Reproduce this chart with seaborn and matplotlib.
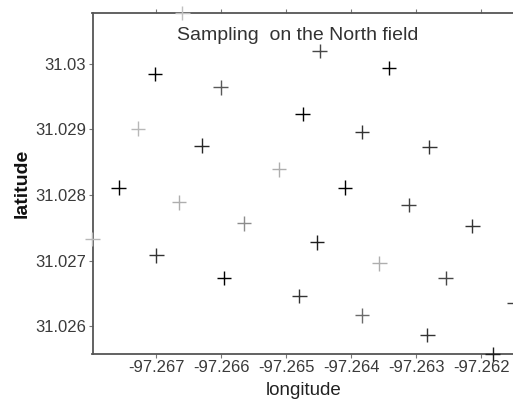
import matplotlib
matplotlib.use("Agg")
import matplotlib.pyplot as plt
import seaborn as sns
import pandas as pd

# sampling points
longitude = [-97.26702, -97.26660, -97.26601, -97.26449, -97.26342, -97.26728,
             -97.26630, -97.26475, -97.26384, -97.26280, -97.26511, -97.26758,
             -97.26665, -97.26410, -97.26312, -97.26565, -97.26214, -97.26798,
             -97.26700, -97.26453, -97.26357, -97.26596, -97.26255, -97.26480,
             -97.26150, -97.26384, -97.26283, -97.26183]
latitude = [31.02984, 31.03077, 31.02964, 31.03019, 31.02993, 31.02901,
            31.02875, 31.02923, 31.02896, 31.02873, 31.02839, 31.02811,
            31.02789, 31.02811, 31.02785, 31.02757, 31.02753, 31.02733,
            31.02708, 31.02728, 31.02696, 31.02674, 31.02674, 31.02646,
            31.02636, 31.02617, 31.02587, 31.02558]
# grey level of each cross (0 = black, 1 = white)
shade = [0.0, 0.75, 0.35, 0.28, 0.0, 0.72,
         0.15, 0.0, 0.2, 0.2, 0.68, 0.0,
         0.68, 0.0, 0.25, 0.55, 0.2, 0.72,
         0.2, 0.12, 0.68, 0.0, 0.28, 0.2,
         0.25, 0.42, 0.2, 0.12]

df = pd.DataFrame({"longitude": longitude, "latitude": latitude, "shade": shade})

sns.set_style("ticks")
plt.rcParams["font.family"] = ["Liberation Sans", "DejaVu Sans"]

fig = plt.figure(figsize=(5.13, 4.13), dpi=100)
ax = fig.add_axes([92.5 / 513, 59 / 413, 421.5 / 513, 341 / 413])

sns.scatterplot(data=df, x="longitude", y="latitude", hue="shade",
                palette="gray", hue_norm=(0, 1), marker="+", s=110,
                linewidth=1.0, legend=False, clip_on=False, ax=ax, zorder=3)

ax.set_xlim(min(longitude), max(longitude))
ax.set_ylim(min(latitude), max(latitude))
ax.set_xticks([-97.267, -97.266, -97.265, -97.264, -97.263, -97.262])
ax.set_xticklabels(["-97.267", "-97.266", "-97.265", "-97.264", "-97.263", "-97.262"])
ax.set_yticks([31.026, 31.027, 31.028, 31.029, 31.03])
ax.set_yticklabels(["31.026", "31.027", "31.028", "31.029", "31.03"])

for side in ["left", "bottom", "top", "right"]:
    ax.spines[side].set_color("#555555")
    ax.spines[side].set_linewidth(1.3)
ax.tick_params(axis="both", direction="out", length=3, width=0.8, color="#777777",
               labelsize=12, labelcolor="#3a3a3a", pad=1.5)
ax.tick_params(axis="x", top=True)

ax.set_xlabel("longitude", fontsize=13.5, color="#222222", labelpad=5)
ax.set_ylabel("latitude", fontsize=14, fontweight="bold", color="#111111", labelpad=3)
ax.text(0.4875, 0.935, "Sampling  on the North field", transform=ax.transAxes,
        ha="center", va="center", fontsize=14, color="#333333")

fig.savefig("out.png", dpi=100)
